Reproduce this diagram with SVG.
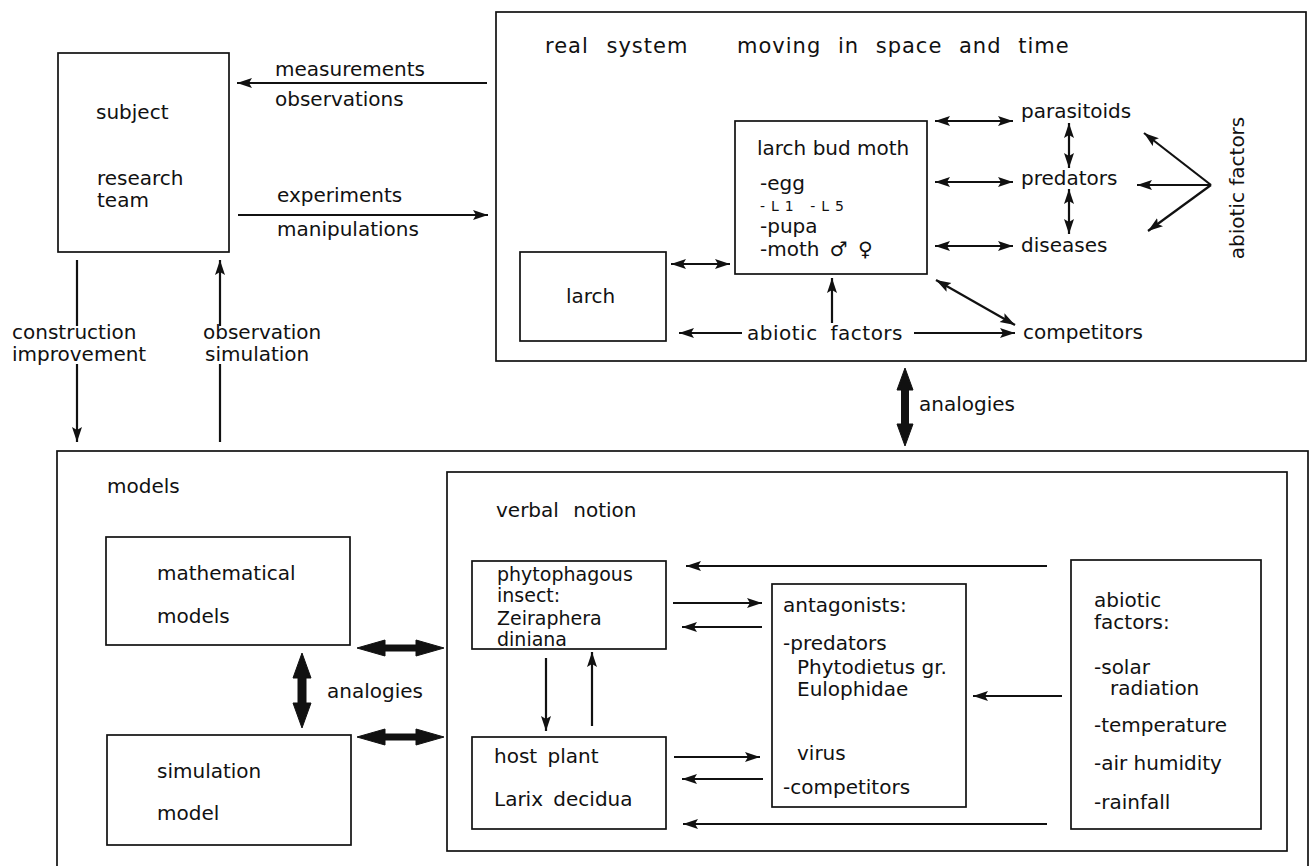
<svg xmlns="http://www.w3.org/2000/svg" width="1311" height="866" viewBox="0 0 1311 866">
<defs>
<style>
text{font-family:"DejaVu Sans","Liberation Sans",sans-serif;font-size:20px;fill:#111}
.box{fill:none;stroke:#111;stroke-width:1.7}
.ln{fill:none;stroke:#111;stroke-width:2.2}
.a1{marker-end:url(#ah)}
.a2{marker-start:url(#ah);marker-end:url(#ah)}
.thick{fill:#111;stroke:#111;stroke-width:1}
.sm{font-size:19px}
.hd{font-size:21px}
</style>
<marker id="ah" markerUnits="userSpaceOnUse" markerWidth="17" markerHeight="11" refX="15" refY="5" orient="auto-start-reverse">
<path d="M0,0 L15,5 L0,10 L3,5 z" fill="#111"/>
</marker>
</defs>
<rect width="1311" height="866" fill="#fff"/>

<g id="subject">
<rect class="box" x="58" y="53" width="171" height="199"/>
<text x="96" y="119">subject</text>
<text x="97" y="185">research</text>
<text x="97" y="207">team</text>
</g>

<g id="real-system">
<rect class="box" x="496" y="12" width="810" height="349"/>
<text class="hd" x="545" y="53" word-spacing="10" letter-spacing="1">real system</text>
<text class="hd" x="737" y="53" word-spacing="9" letter-spacing="1">moving in space and time</text>
</g>

<g id="larch-bud-moth">
<rect class="box" x="735" y="121" width="192" height="153"/>
<text x="757" y="155">larch bud moth</text>
<text x="760" y="190">-egg</text>
<text x="760" y="211" style="font-size:14px" textLength="84" lengthAdjust="spacing">-L1 -L5</text>
<text x="760" y="233">-pupa</text>
<text x="760" y="256" word-spacing="4">-moth ♂ ♀</text>
</g>

<g id="larch">
<rect class="box" x="520" y="252" width="146" height="89"/>
<text x="566" y="303">larch</text>
</g>

<g id="parasitoids"><text x="1021" y="118">parasitoids</text></g>
<g id="predators"><text x="1021" y="185">predators</text></g>
<g id="diseases"><text x="1021" y="252">diseases</text></g>
<g id="competitors"><text x="1023" y="339">competitors</text></g>
<g id="abiotic-real"><text x="747" y="340" word-spacing="6" letter-spacing="0.5">abiotic factors</text></g>
<g id="abiotic-vertical"><text transform="translate(1244,188) rotate(-90)" text-anchor="middle">abiotic factors</text></g>

<g id="models">
<rect class="box" x="57" y="451" width="1251" height="420"/>
<text x="107" y="493">models</text>
</g>

<g id="mathematical-models">
<rect class="box" x="106" y="537" width="244" height="108"/>
<text x="157" y="580">mathematical</text>
<text x="157" y="623">models</text>
</g>

<g id="simulation-model">
<rect class="box" x="107" y="735" width="244" height="110"/>
<text x="157" y="778">simulation</text>
<text x="157" y="820">model</text>
</g>

<g id="verbal-notion">
<rect class="box" x="447" y="472" width="840" height="379"/>
<text x="496" y="517" word-spacing="8">verbal notion</text>
</g>

<g id="phytophagous">
<rect class="box" x="472" y="561" width="194" height="88"/>
<text class="sm" x="497" y="581">phytophagous</text>
<text class="sm" x="497" y="602">insect:</text>
<text class="sm" x="497" y="625">Zeiraphera</text>
<text class="sm" x="497" y="646">diniana</text>
</g>

<g id="host-plant">
<rect class="box" x="472" y="737" width="194" height="92"/>
<text x="494" y="763" word-spacing="4">host plant</text>
<text x="494" y="806" word-spacing="4">Larix decidua</text>
</g>

<g id="antagonists">
<rect class="box" x="772" y="584" width="194" height="223"/>
<text x="783" y="612">antagonists:</text>
<text x="783" y="650">-predators</text>
<text x="797" y="674">Phytodietus gr.</text>
<text x="797" y="696">Eulophidae</text>
<text x="797" y="760">virus</text>
<text x="783" y="794">-competitors</text>
</g>

<g id="abiotic-factors">
<rect class="box" x="1071" y="560" width="190" height="269"/>
<text x="1094" y="607">abiotic</text>
<text x="1094" y="629">factors:</text>
<text x="1094" y="674">-solar</text>
<text x="1110" y="695">radiation</text>
<text x="1094" y="732">-temperature</text>
<text x="1094" y="770">-air humidity</text>
<text x="1094" y="809">-rainfall</text>
</g>

<g id="connectors">
<path class="ln a1" d="M487,83 H237"/>
<text x="275" y="76">measurements</text>
<text x="275" y="106">observations</text>
<path class="ln a1" d="M238,215 H488"/>
<text x="277" y="202">experiments</text>
<text x="277" y="236">manipulations</text>

<path class="ln" d="M77,260 V326"/>
<path class="ln a1" d="M77,364 V442"/>
<text x="12" y="339">construction</text>
<text x="12" y="361">improvement</text>
<path class="ln" d="M220,442 V364"/>
<path class="ln a1" d="M220,326 V260"/>
<text x="203" y="339">observation</text>
<text x="205" y="361">simulation</text>

<path class="ln a2" d="M671,264 H730"/>
<path class="ln a2" d="M935,121 H1013"/>
<path class="ln a2" d="M935,182 H1013"/>
<path class="ln a2" d="M935,246 H1013"/>
<path class="ln a2" d="M1069,123 V168"/>
<path class="ln a2" d="M1069,189 V234"/>
<path class="ln a1" d="M1211,185 L1144,133"/>
<path class="ln a1" d="M1211,185 H1137"/>
<path class="ln a1" d="M1211,185 L1148,231"/>
<path class="ln a1" d="M742,333 H679"/>
<path class="ln a1" d="M914,333 H1015"/>
<path class="ln a1" d="M832,323 V278"/>
<path class="ln a2" d="M936,280 L1015,325"/>

<polygon class="thick" points="905,368 913,390 908.5,390 908.5,424 913,424 905,446 897,424 901.5,424 901.5,390 897,390"/>
<text x="919" y="411">analogies</text>

<polygon class="thick" points="302,653 311,678 306,678 306,703 311,703 302,728 293,703 298,703 298,678 293,678"/>
<text x="327" y="698">analogies</text>
<polygon class="thick" points="357,648 385,640 385,645 416,645 416,640 444,648 416,656 416,651 385,651 385,656"/>
<polygon class="thick" points="357,737 385,729 385,734 416,734 416,729 444,737 416,745 416,740 385,740 385,745"/>

<path class="ln a1" d="M1047,566 H686"/>
<path class="ln a1" d="M673,603 H762"/>
<path class="ln a1" d="M762,627 H682"/>
<path class="ln a1" d="M546,658 V731"/>
<path class="ln a1" d="M592,726 V652"/>
<path class="ln a1" d="M674,757 H760"/>
<path class="ln a1" d="M763,779 H682"/>
<path class="ln a1" d="M1062,696 H973"/>
<path class="ln a1" d="M1047,824 H683"/>
</g>
</svg>
